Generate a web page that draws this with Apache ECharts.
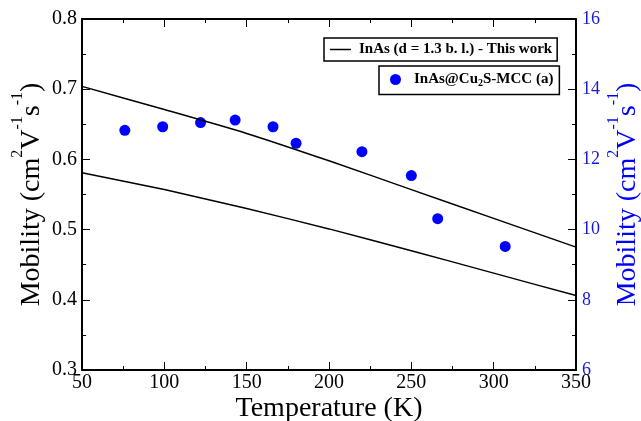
<!DOCTYPE html>
<html>
<head>
<meta charset="utf-8">
<script src="https://cdn.jsdelivr.net/npm/echarts@6/dist/echarts.min.js"></script>
<style>html,body{margin:0;padding:0;background:#fff}#c{width:641px;height:421px}</style>
</head>
<body>
<div id="c"></div>
<script>
// ---- data ----
var lineName = 'InAs (d = 1.3 b. l.) - This work';
var scatterName = 'InAs@Cu2S-MCC (a)';
var lineT = [50, 100, 150, 200, 250, 300, 350];
var upperMobility = [0.704, 0.671, 0.637, 0.598, 0.557, 0.516, 0.475];
var lowerMobility = [0.581, 0.557, 0.530, 0.501, 0.470, 0.438, 0.406];
var expT = [76, 99, 122, 143, 166, 180, 220, 250, 266, 307];
var expMobility = [12.83, 12.93, 13.05, 13.12, 12.93, 12.46, 12.22, 11.54, 10.31, 9.52];
var xTicks = {min: 50, max: 350, interval: 50};
var yLeftTicks = {min: 0.3, max: 0.8, interval: 0.1};
var yRightTicks = {min: 6, max: 16, interval: 2};

function pairs(xs, ys) { return xs.map(function (x, i) { return [x, ys[i]]; }); }

var FONT = 'Liberation Serif';
var BLUE = '#0000ff';
var BLUE_TXT = '#1a1ad6';

var yName = '{n|Mobility (cm}{s|2}{n|V}{s|-1}{n|s}{s|-1}{n|)}';
function nameRich(color) {
  return {
    n: {fontFamily: FONT, fontSize: 28, color: color, lineHeight: 36, verticalAlign: 'bottom'},
    s: {fontFamily: FONT, fontSize: 16, color: color, lineHeight: 16, verticalAlign: 'top'}
  };
}
var chart = echarts.init(document.getElementById('c'), null, {renderer: 'canvas'});
chart.setOption({
  animation: false,
  backgroundColor: '#fff',
  grid: {left: 82, right: 65, top: 19, bottom: 51, containLabel: false, outerBoundsMode: 'none'},
  legend: [
    {
      data: [{name: lineName, icon: 'rect'}], left: 324, top: 38, orient: 'vertical',
      padding: [4, 5, 4, 6], borderColor: '#000', borderWidth: 1.5,
      itemWidth: 21, itemHeight: 1.5, selectedMode: false,
      itemStyle: {color: '#000'},
      textStyle: {fontFamily: FONT, fontSize: 15, fontWeight: 'bold', color: '#000', padding: [0, 0, 0, 3]}
    },
    {
      data: [scatterName], left: 379, top: 66, orient: 'vertical',
      padding: [6, 6, 6, 11], borderColor: '#000', borderWidth: 1.5,
      itemWidth: 11, itemHeight: 11, selectedMode: false,
      formatter: function () { return 'InAs@Cu{sub|2}S-MCC (a)'; },
      textStyle: {fontFamily: FONT, fontSize: 15, fontWeight: 'bold', color: '#000', padding: [0, 0, 0, 8],
        rich: {sub: {fontFamily: FONT, fontSize: 10, fontWeight: 'bold', verticalAlign: 'bottom', padding: [8, 0, 0, 0]}}}
    }
  ],
  xAxis: [
    {
      type: 'value', position: 'bottom', min: xTicks.min, max: xTicks.max, interval: xTicks.interval,
      name: 'Temperature (K)', nameLocation: 'middle', nameGap: 25, nameMoveOverlap: false,
      nameTextStyle: {fontFamily: FONT, fontSize: 28, color: '#000'},
      axisLine: {show: true, lineStyle: {color: '#000', width: 2}},
      axisTick: {inside: true, length: 8, lineStyle: {color: '#000', width: 1}},
      minorTick: {show: true, splitNumber: 2, length: 4, lineStyle: {color: '#000', width: 1}},
      axisLabel: {fontFamily: FONT, fontSize: 20, color: '#000', margin: 3},
      splitLine: {show: false}
    },
    {
      type: 'value', position: 'top', min: xTicks.min, max: xTicks.max, interval: xTicks.interval,
      axisLine: {show: true, lineStyle: {color: '#000', width: 2}},
      axisTick: {inside: true, length: 8, lineStyle: {color: '#000', width: 1}},
      minorTick: {show: true, splitNumber: 2, length: 4, lineStyle: {color: '#000', width: 1}},
      axisLabel: {show: false}, splitLine: {show: false}
    }
  ],
  yAxis: [
    {
      type: 'value', position: 'left', min: yLeftTicks.min, max: yLeftTicks.max, interval: yLeftTicks.interval,
      name: yName, nameLocation: 'middle', nameGap: 36, nameMoveOverlap: false,
      nameTextStyle: {fontFamily: FONT, fontSize: 28, color: '#000', rich: nameRich('#000')},
      axisLine: {show: true, lineStyle: {color: '#000', width: 2}},
      axisTick: {inside: true, length: 8, lineStyle: {color: '#000', width: 1}},
      minorTick: {show: true, splitNumber: 2, length: 4, lineStyle: {color: '#000', width: 1}},
      axisLabel: {fontFamily: FONT, fontSize: 20, color: '#000', margin: 5,
        formatter: function (v) { return v.toFixed(1); }},
      splitLine: {show: false}
    },
    {
      type: 'value', position: 'right', min: yRightTicks.min, max: yRightTicks.max, interval: yRightTicks.interval,
      name: yName, nameLocation: 'middle', nameGap: 30, nameMoveOverlap: false,
      nameTextStyle: {fontFamily: FONT, fontSize: 28, color: BLUE, rich: nameRich(BLUE)},
      axisLine: {show: true, lineStyle: {color: '#000', width: 2}},
      axisTick: {inside: true, length: 8, lineStyle: {color: '#000', width: 1}},
      minorTick: {show: true, splitNumber: 2, length: 4, lineStyle: {color: '#000', width: 1}},
      axisLabel: {fontFamily: FONT, fontSize: 18, color: BLUE_TXT, margin: 6},
      splitLine: {show: false}
    }
  ],
  series: [
    {
      name: lineName, type: 'line', xAxisIndex: 0, yAxisIndex: 0, symbol: 'none', smooth: 0.2,
      lineStyle: {color: '#000', width: 1.5}, itemStyle: {color: '#000'},
      data: pairs(lineT, upperMobility)
    },
    {
      name: lineName, type: 'line', xAxisIndex: 0, yAxisIndex: 0, symbol: 'none', smooth: 0.2,
      lineStyle: {color: '#000', width: 1.5}, itemStyle: {color: '#000'},
      data: pairs(lineT, lowerMobility)
    },
    {
      name: scatterName, type: 'scatter', xAxisIndex: 0, yAxisIndex: 1, symbol: 'circle', symbolSize: 11,
      itemStyle: {color: BLUE, opacity: 1},
      data: pairs(expT, expMobility)
    }
  ]
});
</script>
</body>
</html>
